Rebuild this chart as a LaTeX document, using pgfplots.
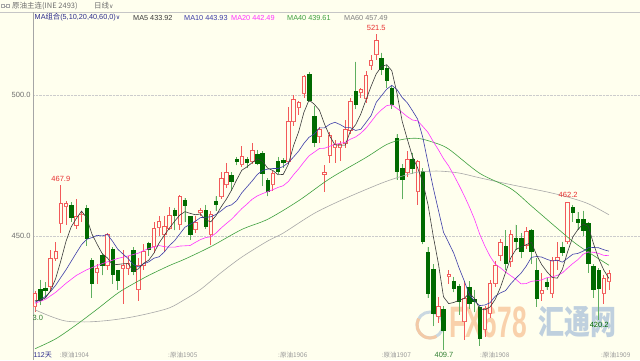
\documentclass[border=0pt]{standalone}
\usepackage{fontspec}
\setmainfont{Liberation Sans}
\newfontfamily\cjk{Noto Sans CJK SC}
\newfontfamily\dv{DejaVu Sans}
\usepackage{pgfplots}
\usepgfplotslibrary{statistics}
\pgfplotsset{compat=1.18}
\usepackage{pgfplotstable}
\definecolor{bg}{HTML}{FFFFEE}
\definecolor{upc}{HTML}{F25A5A}
\definecolor{dnfill}{HTML}{006A00}
\definecolor{dnwick}{HTML}{5FAF5F}
\definecolor{ma5}{HTML}{3A3A3A}
\definecolor{ma10}{HTML}{3C3CA8}
\definecolor{ma20}{HTML}{FF33FF}
\definecolor{ma40}{HTML}{3FA03F}
\definecolor{ma60}{HTML}{A8A8A8}
\definecolor{navy}{HTML}{2B2B8C}
\definecolor{lbl}{HTML}{6E6E6E}
\definecolor{hired}{HTML}{E83030}
\definecolor{logr}{HTML}{F8C9A0}
\definecolor{logb}{HTML}{B4C8DC}

\pgfplotstableread{
i O H L C
0 424.9 430.5 423.0 429.7
1 431.1 434.4 425.5 427.3
2 431.5 433.5 428.0 430.8
3 432.0 445.0 430.0 442.1
4 442.1 448.0 441.0 444.4
5 454.3 467.9 451.0 461.4
6 460.4 462.5 454.0 461.6
7 461.0 462.0 455.0 456.5
8 453.9 463.0 452.5 456.9
9 457.5 459.0 455.0 457.8
10 459.8 461.0 446.5 449.2
11 441.5 442.0 428.0 433.2
12 437.0 440.0 433.0 438.5
13 443.3 444.0 436.0 439.7
14 439.7 451.0 438.0 450.4
15 445.3 446.0 433.0 436.5
16 437.9 438.0 431.0 434.4
17 438.5 445.0 426.0 439.7
18 438.5 443.0 436.0 440.1
19 445.0 446.0 436.0 437.4
20 430.9 442.0 427.0 439.7
21 439.7 447.0 438.0 444.4
22 447.4 448.0 443.0 445.4
23 446.2 455.0 444.0 452.7
24 453.1 457.0 450.0 455.1
25 450.4 457.0 444.4 453.3
26 452.7 460.4 452.0 457.4
27 459.0 460.0 452.0 457.4
28 454.0 464.5 452.0 463.9
29 462.8 463.5 455.0 461.0
30 456.9 457.0 448.6 450.4
31 452.3 457.0 451.0 454.7
32 458.3 460.0 457.0 459.0
33 459.0 461.0 452.5 453.3
34 450.4 459.0 446.8 457.8
35 462.2 464.0 459.0 461.2
36 463.9 472.8 463.0 470.4
37 468.1 475.8 467.0 472.4
38 471.6 472.5 466.0 469.3
39 477.3 478.0 475.0 476.3
40 475.2 481.9 474.5 478.3
41 477.2 478.0 474.0 476.0
42 476.4 483.1 475.5 480.3
43 479.0 480.5 475.0 475.8
44 479.3 480.0 467.7 472.2
45 469.8 470.5 464.0 465.7
46 468.1 473.0 466.0 472.2
47 476.4 478.0 472.0 472.8
48 476.8 477.5 474.0 476.0
49 476.4 495.6 475.5 490.5
50 490.5 500.0 489.0 498.5
51 495.5 498.0 493.0 497.3
52 500.4 507.0 499.0 506.5
53 507.4 508.2 497.5 498.2
54 492.5 496.0 481.5 483.1
55 485.2 488.5 483.0 487.8
56 472.0 475.2 465.7 472.5
57 478.7 487.0 476.0 485.5
58 481.3 484.0 476.0 482.6
59 481.3 483.5 476.5 482.4
60 482.9 491.0 481.0 487.8
61 487.6 499.0 486.0 497.6
62 501.2 511.8 495.0 496.5
63 500.8 502.5 499.0 501.8
64 498.8 508.5 497.0 507.1
65 510.6 514.0 509.0 512.4
66 514.2 521.5 512.5 519.5
67 513.0 515.0 507.0 509.1
68 509.5 510.5 502.5 505.3
69 502.4 503.0 495.0 496.5
70 484.6 486.0 470.0 472.8
71 474.0 475.5 463.0 469.9
72 472.5 480.0 471.0 477.2
73 477.0 479.5 472.0 474.0
74 465.7 477.0 461.0 476.4
75 472.8 474.0 447.0 448.0
76 444.1 446.0 428.0 429.7
77 438.2 440.0 418.0 422.6
78 421.4 428.5 419.0 424.9
79 424.0 425.0 409.7 416.7
80 435.6 438.0 433.0 436.2
81 434.0 435.5 430.0 431.4
82 432.0 433.0 422.0 426.7
83 419.6 434.0 413.0 427.9
84 431.8 434.0 424.0 426.1
85 427.5 431.0 423.0 426.8
86 424.7 425.5 411.0 413.7
87 416.7 425.0 414.0 424.3
88 422.6 434.5 421.0 433.2
89 433.2 441.0 432.0 439.7
90 443.2 449.0 441.0 447.6
91 446.4 452.0 438.0 440.3
92 440.9 452.0 439.0 450.4
93 449.2 454.0 445.0 448.0
94 449.2 451.0 442.0 444.4
95 446.8 453.0 445.5 451.5
96 452.1 452.5 440.0 444.4
97 437.9 442.0 424.9 427.9
98 429.7 437.0 427.0 430.6
99 433.5 435.0 431.0 432.3
100 429.7 442.5 428.0 441.5
101 441.5 448.0 438.0 442.5
102 445.9 448.0 443.0 444.1
103 448.0 462.2 447.0 461.8
104 460.0 461.0 455.0 458.3
105 455.9 458.5 452.0 454.7
106 455.9 459.0 450.0 452.1
107 454.5 455.0 437.0 440.3
108 439.1 440.0 428.0 430.9
109 437.9 438.5 420.2 431.4
110 429.7 436.0 426.0 434.9
111 433.8 438.0 431.0 436.8
}\ohlc

\pgfplotsset{
  candleup/.style={draw=upc, fill=bg, line width=0.75pt, solid, mark=none,
    boxplot/every median/.style={draw=none}},
  candledown/.style={draw=dnfill, fill=dnfill, line width=0.6pt, solid, mark=none,
    boxplot/every whisker/.style={draw=dnwick, line width=0.8pt},
    boxplot/every median/.style={draw=none}},
}

\begin{document}
\begin{tikzpicture}
\begin{scope}[x=1pt,y=1pt]
\fill[bg] (0,0) rectangle (640,360);
\draw[gray!45] (0,348) -- (640,348);
% watermark
\draw[logb, line width=3pt, opacity=0.7] (430,35) circle (13);
\draw[logr, line width=3pt, opacity=0.9] (430,35) ++(150:13) arc (150:300:13);
\node[font=\bfseries\fontsize{44}{44}\selectfont, text=logr, xscale=0.6, opacity=0.85] at (488,38) {FX678};
\node[font=\cjk\bfseries\fontsize{26}{26}\selectfont, text=logb, yscale=1.3, opacity=0.85] at (577,38) {汇通网};
\end{scope}

\begin{axis}[
  at={(33pt,0pt)}, anchor=south west,
  scale only axis, width=607pt, height=348pt,
  xmin=-0.387, xmax=117.0, ymin=406.0, ymax=529.4,
  axis x line=none, axis y line*=left,
  y axis line style={draw=gray!70, line width=0.6pt},
  ytick={450,500}, yticklabels={450.0,500.0},
  major tick length=0pt,
  yticklabel style={font=\fontsize{7.5}{8}\selectfont, text=lbl, xshift=1pt},
  ymajorgrids, grid style={densely dotted, gray!40, line width=0.5pt},
  boxplot/draw direction=y,
  boxplot/box extend=0.68,
  boxplot/whisker extend=0,
]
\pgfplotsinvokeforeach{0,...,111}{%
  \pgfplotstablegetelem{#1}{O}\of\ohlc \let\vO\pgfplotsretval
  \pgfplotstablegetelem{#1}{H}\of\ohlc \let\vH\pgfplotsretval
  \pgfplotstablegetelem{#1}{L}\of\ohlc \let\vL\pgfplotsretval
  \pgfplotstablegetelem{#1}{C}\of\ohlc \let\vC\pgfplotsretval
  \pgfmathsetmacro\vlo{min(\vO,\vC)}%
  \pgfmathsetmacro\vhi{max(\vO,\vC)}%
  \pgfmathtruncatemacro\isup{\vC>=\vO}%
  \ifnum\isup=1 \def\cst{candleup}\else\def\cst{candledown}\fi
  \edef\doit{\noexpand\addplot[\cst, boxplot prepared={draw position=#1, lower whisker=\vL, lower quartile=\vlo, median=\vlo, upper quartile=\vhi, upper whisker=\vH}] coordinates {};}%
  \doit
}

\addplot[ma60, line width=0.6pt, smooth, mark=none] coordinates {
(0,423.8)(3,421.5)(6,419.8)(10,419.5)(14,420.0)(18,421.0)(22,422.5)(26,424.5)(29,427.5)(32,431.0)(36,437.0)(40,442.5)(45,448.2)(48,451.0)(54,458.0)(60,463.3)(67,468.7)(71,471.2)(74,472.6)(78,473.0)(82,472.3)(86,470.6)(92,468.2)(99,465.6)(103,463.8)(107,461.4)(111,457.5)};

\addplot[ma40, line width=0.6pt, smooth, mark=none] coordinates {
(0,410.0)(4,413.5)(8,418.5)(12,424.0)(16,429.7)(19,433.0)(22,436.0)(26,439.5)(29,441.8)(34,446.2)(40,452.3)(45,455.9)(51,462.5)(57,470.3)(64,477.8)(68,482.4)(71,484.2)(74,484.6)(77,483.2)(80,480.8)(86,472.2)(92,466.8)(96,460.6)(101,452.7)(105,446.7)(111,439.6)};

\addplot[ma20, line width=0.6pt, mark=none] coordinates {
(0,426.1)(2,427.5)(4,430.0)(6,433.2)(8,436.0)(10,438.0)(12,439.5)(14,440.8)(16,442.0)(18,442.9)(19,443.4)(20,443.9)(21,444.8)(22,445.5)(23,446.1)(24,446.6)(25,446.2)(26,446.0)(27,446.0)(28,446.4)(29,446.5)(30,446.6)(31,447.7)(32,448.7)(33,449.4)(34,449.7)(35,451.0)(36,452.8)(37,454.4)(38,455.9)(39,457.8)(40,459.7)(41,461.3)(42,463.0)(43,464.2)(44,465.0)(45,465.7)(46,466.4)(47,467.2)(48,467.8)(49,469.3)(50,471.7)(51,473.8)(52,476.2)(53,478.4)(54,479.7)(55,481.0)(56,481.1)(57,481.8)(58,482.5)(59,482.8)(60,483.2)(61,484.3)(62,485.1)(63,486.4)(64,488.2)(65,490.5)(66,492.9)(67,494.7)(68,496.2)(69,496.5)(70,495.2)(71,493.8)(72,492.3)(73,491.1)(74,490.8)(75,488.8)(76,486.7)(77,483.5)(78,480.6)(79,477.4)(80,474.8)(81,471.5)(82,468.0)(83,464.3)(84,460.3)(85,455.9)(86,450.6)(87,446.4)(88,442.8)(89,440.0)(90,438.7)(91,437.2)(92,435.9)(93,434.6)(94,433.0)(95,433.1)(96,433.9)(97,434.1)(98,434.4)(99,435.2)(100,435.5)(101,436.0)(102,436.9)(103,438.6)(104,440.2)(105,441.6)(106,443.5)(107,444.3)(108,444.2)(109,443.8)(110,443.1)(111,443.0)};

\addplot[ma10, line width=0.6pt, mark=none] coordinates {
(0,426.5)(1,427.3)(2,428.5)(3,430.3)(4,432.5)(5,435.3)(6,438.0)(7,441.0)(8,444.0)(9,446.9)(10,448.8)(11,449.4)(12,450.2)(13,450.0)(14,450.5)(15,448.1)(16,445.3)(17,443.6)(18,442.0)(19,439.9)(20,439.0)(21,440.1)(22,440.8)(23,442.1)(24,442.6)(25,444.3)(26,446.6)(27,448.3)(28,450.7)(29,453.1)(30,454.1)(31,455.2)(32,456.5)(33,456.6)(34,456.8)(35,457.6)(36,458.9)(37,460.4)(38,461.0)(39,462.5)(40,465.3)(41,467.4)(42,469.5)(43,471.8)(44,473.2)(45,473.7)(46,473.9)(47,473.9)(48,474.6)(49,476.0)(50,478.0)(51,480.1)(52,482.8)(53,485.0)(54,486.1)(55,488.3)(56,488.3)(57,489.6)(58,490.3)(59,489.5)(60,488.4)(61,488.4)(62,487.4)(63,487.8)(64,490.2)(65,492.7)(66,497.4)(67,499.7)(68,502.0)(69,503.4)(70,501.9)(71,499.1)(72,497.2)(73,494.4)(74,491.4)(75,484.9)(76,475.9)(77,467.2)(78,459.2)(79,451.3)(80,447.6)(81,443.8)(82,438.7)(83,434.1)(84,429.1)(85,426.9)(86,425.3)(87,425.5)(88,426.3)(89,428.6)(90,429.8)(91,430.6)(92,433.0)(93,435.0)(94,436.8)(95,439.3)(96,442.4)(97,442.7)(98,442.5)(99,441.7)(100,441.1)(101,441.4)(102,440.7)(103,442.1)(104,443.5)(105,443.8)(106,444.6)(107,445.8)(108,445.9)(109,445.8)(110,445.1)(111,444.6)};

\addplot[ma5, line width=0.6pt, mark=none] coordinates {
(0,427.0)(1,427.2)(2,428.0)(3,430.5)(4,434.9)(5,441.2)(6,448.1)(7,453.2)(8,456.2)(9,458.8)(10,456.4)(11,450.7)(12,447.1)(13,443.7)(14,442.2)(15,439.7)(16,439.9)(17,440.1)(18,440.2)(19,437.6)(20,438.3)(21,440.3)(22,441.4)(23,443.9)(24,447.5)(25,450.2)(26,452.8)(27,455.2)(28,457.4)(29,458.6)(30,458.0)(31,457.5)(32,457.8)(33,455.7)(34,455.0)(35,457.2)(36,460.3)(37,463.0)(38,466.2)(39,469.9)(40,473.3)(41,474.5)(42,476.0)(43,477.3)(44,476.5)(45,474.0)(46,473.2)(47,471.7)(48,471.8)(49,475.4)(50,482.0)(51,487.0)(52,493.8)(53,498.2)(54,496.7)(55,494.6)(56,489.6)(57,485.4)(58,482.3)(59,482.2)(60,482.2)(61,487.2)(62,489.4)(63,493.2)(64,498.2)(65,503.1)(66,507.5)(67,510.0)(68,510.7)(69,508.6)(70,500.6)(71,490.7)(72,484.3)(73,478.1)(74,474.1)(75,469.1)(76,461.1)(77,450.1)(78,440.3)(79,428.4)(80,426.0)(81,426.4)(82,427.2)(83,427.8)(84,429.7)(85,427.8)(86,424.2)(87,423.8)(88,424.8)(89,427.5)(90,431.7)(91,437.0)(92,442.2)(93,445.2)(94,446.1)(95,446.9)(96,447.7)(97,443.2)(98,439.8)(99,437.3)(100,435.3)(101,435.0)(102,438.2)(103,444.4)(104,449.6)(105,452.3)(106,454.2)(107,453.4)(108,447.3)(109,441.9)(110,437.9)(111,434.9)};

\node[font=\fontsize{7.5}{8}\selectfont, text=hired] at (axis cs:5,470.3) {467.9};
\node[font=\fontsize{7.5}{8}\selectfont, text=hired] at (axis cs:66,523.8) {521.5};
\node[font=\fontsize{7.5}{8}\selectfont, text=hired] at (axis cs:103.1,464.5) {462.2};
\node[font=\fontsize{7.5}{8}\selectfont, text=ma40!80!black] at (axis cs:79.1,407.9) {409.7};
\node[font=\fontsize{7.5}{8}\selectfont, text=dnfill] at (axis cs:109.1,418.4) {420.2};
\node[font=\fontsize{7.5}{8}\selectfont, text=ma40!80!black, anchor=east, inner sep=0pt] at (axis cs:1.6,420.9) {423.0};
\end{axis}

\begin{scope}[x=1pt,y=1pt]
% title bar
\draw[gray!70, line width=0.5pt] (1.5,352.5) rectangle (4.5,355.5);
\draw[gray!70, line width=0.5pt] (6,352.5) rectangle (9,355.5);
\draw[gray!70, line width=0.5pt] (4.5,354) -- (6,354);
\node[anchor=west, inner sep=0pt, font=\cjk\fontsize{7.5}{8}\selectfont, text=lbl] at (12,354) {原油主连(INE 2493)};
\node[anchor=west, inner sep=0pt, font=\cjk\fontsize{7.5}{8}\selectfont, text=lbl] at (94,354) {日线{\dv\fontsize{6}{6}\selectfont ∨}};
% MA legend row
\node[anchor=west, inner sep=0pt, font=\fontsize{7.3}{8}\selectfont, text=navy] at (34.5,342.5) {MA{\cjk 组合}(5,10,20,40,60,0){\dv\fontsize{6}{6}\selectfont ∨}};
\node[anchor=west, inner sep=0pt, font=\fontsize{7.3}{8}\selectfont, text=ma5] at (133,342.5) {MA5 433.92};
\node[anchor=west, inner sep=0pt, font=\fontsize{7.3}{8}\selectfont, text=ma10] at (184,342.5) {MA10 443.93};
\node[anchor=west, inner sep=0pt, font=\fontsize{7.3}{8}\selectfont, text=ma20] at (231,342.5) {MA20 442.49};
\node[anchor=west, inner sep=0pt, font=\fontsize{7.3}{8}\selectfont, text=ma40] at (287,342.5) {MA40 439.61};
\node[anchor=west, inner sep=0pt, font=\fontsize{7.3}{8}\selectfont, text=gray] at (344,342.5) {MA60 457.49};
% bottom labels
\node[anchor=west, inner sep=0pt, font=\fontsize{7}{8}\selectfont, text=navy] at (33.5,5) {112{\cjk 天}};
\node[anchor=west, inner sep=0pt, font=\cjk\fontsize{6.5}{7}\selectfont, text=gray!80] at (59.5,5) {:原油1904};
\node[anchor=west, inner sep=0pt, font=\cjk\fontsize{6.5}{7}\selectfont, text=gray!80] at (168,5) {:原油1905};
\node[anchor=west, inner sep=0pt, font=\cjk\fontsize{6.5}{7}\selectfont, text=gray!80] at (278,5) {:原油1906};
\node[anchor=west, inner sep=0pt, font=\cjk\fontsize{6.5}{7}\selectfont, text=gray!80] at (381.5,5) {:原油1907};
\node[anchor=west, inner sep=0pt, font=\cjk\fontsize{6.5}{7}\selectfont, text=gray!80] at (480,5) {:原油1908};
\node[anchor=west, inner sep=0pt, font=\cjk\fontsize{6.5}{7}\selectfont, text=gray!80] at (601,5) {:原油1909};
\end{scope}
\pgfresetboundingbox
\useasboundingbox (0,0) rectangle (640pt,360pt);
\end{tikzpicture}
\end{document}
